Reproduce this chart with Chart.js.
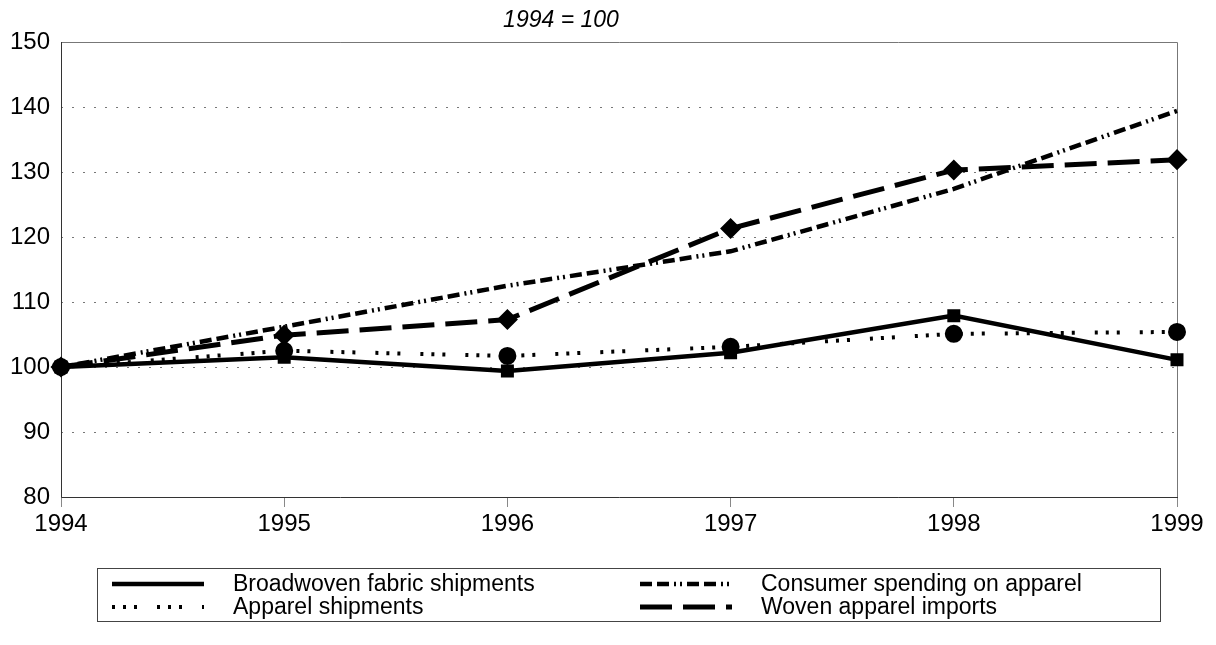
<!DOCTYPE html>
<html><head><meta charset="utf-8">
<script src="https://cdn.jsdelivr.net/npm/chart.js@4/dist/chart.umd.min.js"></script>
<style>html,body{margin:0;padding:0;background:#fff}#w{width:1216px;height:645px;position:relative}</style>
</head><body><div id="w"><canvas id="c"></canvas></div>
<script>
const years = ['1994','1995','1996','1997','1998','1999'];
const broadwoven = [100, 101.5, 99.4, 102.2, 107.9, 101.1];
const apparelShipments = [100, 102.5, 101.7, 103.1, 105.1, 105.4];
const consumerSpending = [100, 106.2, 112.5, 117.8, 127.4, 139.4];
const wovenImports = [100, 104.9, 107.3, 121.3, 130.3, 131.9];
const yTicks = [80, 90, 100, 110, 120, 130, 140, 150];
const titleText = '1994 = 100';

const FONT = '"Liberation Sans", Arial, sans-serif';

const extras = {
  id: 'extras',
  beforeDatasetsDraw(chart) {
    const {ctx, chartArea: a} = chart;
    ctx.save();
    ctx.lineWidth = 1;
    ctx.strokeStyle = '#777';
    ctx.beginPath();
    ctx.moveTo(a.left, Math.round(a.top) + 0.5); ctx.lineTo(Math.round(a.right) + 0.5, Math.round(a.top) + 0.5);
    ctx.lineTo(Math.round(a.right) + 0.5, Math.round(a.bottom));
    ctx.stroke();
    ctx.strokeStyle = '#333';
    ctx.beginPath();
    ctx.moveTo(Math.round(a.left) + 0.5, Math.round(a.top));
    ctx.lineTo(Math.round(a.left) + 0.5, Math.round(a.bottom) + 0.5);
    ctx.lineTo(Math.round(a.right) + 1, Math.round(a.bottom) + 0.5);
    ctx.stroke();
    ctx.restore();
  },
  afterDraw(chart) {
    const {ctx} = chart;
    ctx.save();
    ctx.fillStyle = '#000';
    ctx.font = 'italic 23px ' + FONT;
    ctx.textAlign = 'center';
    ctx.textBaseline = 'middle';
    ctx.fillText(titleText, 561, 21);
    // legend box
    const bx = 97, by = 568, bw = 1063, bh = 53;
    ctx.strokeStyle = '#444';
    ctx.lineWidth = 1;
    ctx.strokeRect(bx + 0.5, by + 0.5, bw, bh);
    const order = [0, 2, 1, 3];
    const pos = [[112, 584], [640, 584], [112, 607], [640, 607]];
    ctx.font = '23px ' + FONT;
    ctx.textAlign = 'left';
    order.forEach((di, k) => {
      const ds = chart.data.datasets[di];
      const [x, y] = pos[k];
      ctx.save();
      ctx.strokeStyle = '#000';
      ctx.lineWidth = ds.borderWidth;
      ctx.setLineDash(ds.borderDash || []);
      ctx.beginPath();
      ctx.moveTo(x, y); ctx.lineTo(x + 92, y);
      ctx.stroke();
      ctx.restore();
      ctx.fillText(ds.label, x + 121, y + 1);
    });
    ctx.restore();
  }
};

new Chart(document.getElementById('c'), {
  type: 'line',
  data: {
    labels: years,
    datasets: [
      {label: 'Broadwoven fabric shipments', data: broadwoven, borderColor: '#000', backgroundColor: '#000', borderWidth: 4.5, pointStyle: 'rect', pointRadius: 6, pointHoverRadius: 6, borderDash: [], order: 4},
      {label: 'Apparel shipments', data: apparelShipments, borderColor: '#000', backgroundColor: '#000', borderWidth: 4, pointStyle: 'circle', pointRadius: 7, pointHoverRadius: 7, borderDash: [3, 8, 3, 8, 3, 20], order: 3},
      {label: 'Consumer spending on apparel', data: consumerSpending, borderColor: '#000', backgroundColor: '#000', borderWidth: 4.5, pointRadius: 0, borderDash: [12, 5, 12, 5, 2, 4, 2, 5], order: 2},
      {label: 'Woven apparel imports', data: wovenImports, borderColor: '#000', backgroundColor: '#000', borderWidth: 5, pointStyle: 'rectRot', pointRadius: 7, pointHoverRadius: 7, borderDash: [32, 11], order: 1}
    ]
  },
  options: {
    responsive: true,
    maintainAspectRatio: false,
    animation: false,
    layout: {padding: {top: 42, right: 39, left: 0, bottom: 0}},
    plugins: {legend: {display: false}, tooltip: {enabled: false}, title: {display: false}},
    elements: {line: {tension: 0, borderCapStyle: 'butt'}, point: {borderWidth: 0}},
    scales: {
      x: {
        offset: false,
        grid: {display: true, drawOnChartArea: false, drawTicks: true, tickLength: 10, tickColor: '#888', tickWidth: 1},
        border: {display: false},
        ticks: {color: '#000', font: {family: FONT, size: 24}, padding: 3, maxRotation: 0},
        afterFit(s) { s.height = 148; }
      },
      y: {
        min: 80, max: 150,
        afterBuildTicks(s) { s.ticks = yTicks.map(v => ({value: v})); },
        grid: {color: (c) => (c.tick && (c.tick.value === 80 || c.tick.value === 150)) ? 'rgba(0,0,0,0)' : '#777', lineWidth: 1, drawTicks: false},
        border: {display: false, dash: [2, 9]},
        ticks: {color: '#000', font: {family: FONT, size: 24}, padding: 11},
        afterFit(s) { s.width = 61; }
      }
    }
  },
  plugins: [extras]
});
</script>
</body></html>
